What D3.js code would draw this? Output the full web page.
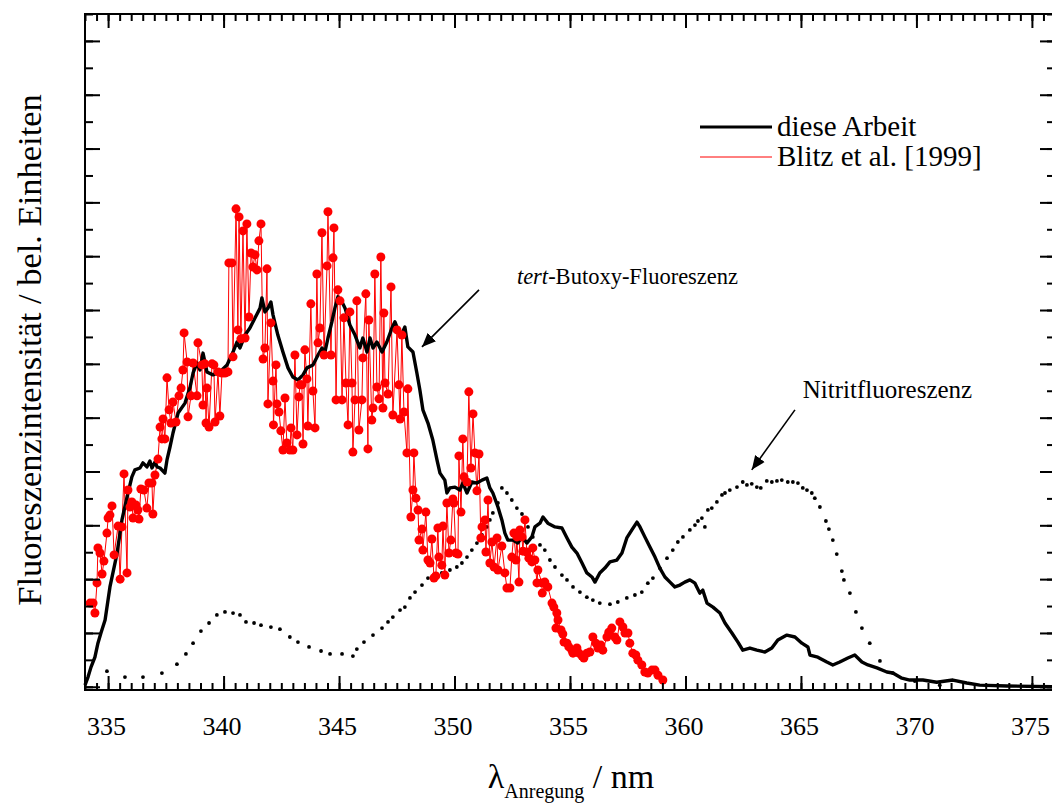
<!DOCTYPE html>
<html><head><meta charset="utf-8">
<script src="https://cdn.jsdelivr.net/npm/d3@7"></script>
<style>
html,body{margin:0;padding:0;background:#fff;}
svg{display:block;}
svg text{font-family:"Liberation Serif","Tinos","Times New Roman","Noto Serif","DejaVu Serif",serif;}
</style></head><body>
<svg id="chart" width="1052" height="805"></svg>
<script>
// ---- data (wavelength in nm, intensity in arbitrary units) ----
const blackX = [334.00,334.13,334.26,334.43,334.56,334.69,334.87,335.08,335.39,335.60,335.82,336.03,336.16,336.38,336.51,336.68,336.81,336.90,337.03,337.12,337.25,337.46,337.55,337.68,337.81,338.03,338.33,338.55,338.68,338.85,338.98,339.11,339.28,339.54,339.84,340.15,340.41,340.58,340.71,340.93,341.14,341.36,341.58,341.66,341.79,341.92,342.05,342.14,342.35,342.57,342.79,343.00,343.22,343.44,343.61,343.87,344.09,344.26,344.39,344.52,344.69,344.82,344.95,345.13,345.26,345.47,345.69,345.90,346.03,346.21,346.34,346.47,346.64,346.86,347.07,347.29,347.42,347.64,347.73,347.85,347.98,348.20,348.37,348.50,348.63,348.85,349.06,349.24,349.37,349.58,349.67,349.80,350.02,350.23,350.36,350.54,350.75,350.97,351.19,351.40,351.53,351.66,351.88,352.05,352.18,352.31,352.53,352.74,352.92,353.13,353.35,353.48,353.70,353.83,354.04,354.35,354.65,354.87,355.08,355.30,355.52,355.73,355.95,356.08,356.29,356.51,356.73,357.03,357.25,357.46,357.68,357.90,358.03,358.24,358.46,358.68,358.89,359.11,359.33,359.54,359.76,359.97,360.19,360.41,360.62,360.75,360.93,361.19,361.49,361.71,362.01,362.27,362.48,362.79,363.09,363.44,363.74,364.00,364.39,364.74,365.04,365.30,365.39,365.73,366.12,366.38,366.68,367.03,367.33,367.64,367.90,368.29,368.72,368.98,369.37,369.71,370.28,370.88,371.58,372.18,372.74,373.91,376.00];
const blackY = [0.06,0.36,0.73,1.10,1.62,2.00,2.48,3.71,4.97,6.20,7.05,7.80,8.06,8.13,8.32,8.17,8.39,8.13,8.35,8.17,8.13,7.94,8.43,8.91,9.43,10.17,10.54,11.14,11.66,12.03,11.77,12.40,11.70,11.59,11.70,11.96,12.44,12.81,12.59,13.07,13.33,13.70,14.07,14.45,13.93,14.07,14.30,13.82,13.07,12.44,11.85,11.51,11.40,11.59,11.85,11.96,12.33,12.59,12.44,12.96,13.56,14.07,14.49,14.30,14.07,13.44,13.07,12.59,12.96,12.44,12.96,12.59,12.81,12.44,12.81,13.33,13.56,13.07,13.14,13.37,12.63,12.44,11.66,11.03,10.29,9.80,9.17,8.43,7.94,7.68,7.20,7.39,7.42,7.31,7.57,7.20,7.61,7.57,7.68,7.76,7.39,7.20,6.68,6.20,5.71,5.45,5.45,5.34,5.57,5.34,5.57,5.94,6.08,6.31,6.08,5.94,5.90,5.53,5.19,4.97,4.60,4.23,4.08,3.89,4.23,4.41,4.64,4.71,4.97,5.53,5.83,6.12,5.94,5.57,5.19,4.82,4.41,4.08,3.89,3.71,3.78,3.89,3.97,3.85,3.48,3.59,3.11,2.96,2.74,2.37,2.00,1.66,1.36,1.44,1.36,1.29,1.44,1.74,1.92,1.85,1.62,1.48,1.18,1.10,0.92,0.81,0.92,1.07,1.18,0.92,0.81,0.70,0.55,0.51,0.32,0.25,0.25,0.17,0.25,0.14,0.06,0.03,0.00];

const dotX = [334.95,335.73,336.51,337.33,337.98,338.37,338.68,339.02,339.37,339.71,340.06,340.41,340.71,340.97,341.32,341.62,342.05,342.44,342.87,343.22,343.70,344.22,344.61,345.13,345.60,345.77,346.08,346.47,346.86,347.12,347.33,347.64,347.85,348.07,348.29,348.59,348.85,349.15,349.45,349.80,350.10,350.32,350.54,350.75,350.97,351.19,351.40,351.53,351.66,351.88,352.05,352.27,352.48,352.70,352.92,353.18,353.39,353.70,353.91,354.13,354.35,354.65,354.87,355.13,355.43,355.73,355.99,356.29,356.73,357.07,357.46,357.81,358.11,358.37,358.59,358.89,359.20,359.45,359.67,359.89,360.19,360.41,360.54,360.71,360.84,360.97,361.14,361.36,361.58,361.71,361.92,362.23,362.48,362.66,362.87,363.09,363.26,363.52,363.74,363.96,364.17,364.43,364.65,364.87,365.08,365.26,365.47,365.60,365.82,366.08,366.21,366.38,366.55,366.77,366.86,367.12,367.38,367.64,367.98,368.42,368.98,369.93,371.01];
const dotY = [0.58,0.36,0.36,0.51,0.84,1.22,1.62,2.07,2.37,2.67,2.78,2.74,2.67,2.41,2.37,2.29,2.22,2.14,1.85,1.66,1.48,1.33,1.22,1.22,1.14,1.40,1.66,1.92,2.18,2.41,2.59,2.85,2.96,3.30,3.52,3.78,4.04,4.04,4.23,4.34,4.45,4.60,4.82,5.08,5.34,5.64,5.94,6.20,6.46,6.83,7.39,7.20,6.94,6.64,6.42,5.94,5.57,5.27,5.08,4.71,4.45,4.15,3.97,3.71,3.52,3.33,3.22,3.11,3.07,3.15,3.30,3.41,3.52,3.85,4.04,4.41,4.78,5.08,5.38,5.57,5.83,6.01,6.16,6.27,5.94,6.57,6.64,6.87,7.13,7.20,7.31,7.42,7.61,7.50,7.54,7.42,7.39,7.65,7.61,7.65,7.68,7.61,7.61,7.57,7.39,7.31,7.20,7.01,6.68,6.16,5.86,5.45,4.93,4.30,3.97,3.48,2.78,2.18,1.62,0.96,0.51,0.21,0.06];

const redX = [334.22,334.35,334.43,334.52,334.56,334.65,334.74,334.82,334.95,335.00,335.08,335.17,335.26,335.43,335.52,335.60,335.69,335.82,335.86,335.95,336.03,336.08,336.21,336.29,336.34,336.42,336.55,336.68,336.77,336.90,336.94,337.03,337.16,337.25,337.33,337.38,337.46,337.55,337.64,337.72,337.81,337.94,338.07,338.16,338.24,338.29,338.42,338.46,338.59,338.68,338.85,338.89,339.06,339.11,339.19,339.24,339.28,339.37,339.50,339.58,339.63,339.76,339.84,339.93,340.06,340.19,340.23,340.36,340.41,340.54,340.62,340.67,340.75,340.84,340.93,341.01,341.10,341.19,341.27,341.36,341.45,341.53,341.62,341.71,341.79,341.88,341.92,342.05,342.14,342.16,342.27,342.31,342.40,342.48,342.57,342.66,342.74,342.87,342.92,343.00,343.09,343.18,343.26,343.31,343.39,343.44,343.52,343.61,343.65,343.78,343.87,343.96,344.04,344.09,344.17,344.26,344.35,344.48,344.52,344.65,344.74,344.78,344.87,344.95,345.04,345.13,345.21,345.30,345.39,345.47,345.56,345.60,345.69,345.77,345.86,345.99,346.03,346.16,346.25,346.29,346.42,346.47,346.55,346.64,346.73,346.81,346.90,346.94,346.99,347.12,347.25,347.33,347.51,347.59,347.64,347.72,347.81,347.94,347.98,348.11,348.20,348.24,348.33,348.42,348.46,348.59,348.63,348.76,348.85,348.94,349.02,349.11,349.19,349.28,349.32,349.45,349.50,349.58,349.67,349.76,349.84,349.93,349.97,350.06,350.15,350.19,350.28,350.36,350.41,350.54,350.62,350.71,350.80,350.88,350.97,351.06,351.14,351.19,351.32,351.36,351.45,351.53,351.62,351.71,351.84,351.88,352.05,352.18,352.27,352.40,352.48,352.57,352.66,352.70,352.79,352.83,352.92,352.96,353.05,353.13,353.22,353.35,353.39,353.48,353.57,353.61,353.78,353.80,353.91,354.04,354.22,354.30,354.39,354.43,354.48,354.61,354.69,354.74,354.87,354.95,355.08,355.13,355.30,355.39,355.52,355.60,355.73,355.86,355.99,356.12,356.21,356.34,356.42,356.60,356.68,356.81,356.94,357.03,357.16,357.29,357.38,357.51,357.59,357.72,357.85,357.94,358.11,358.24,358.37,358.55,358.68,358.81,359.02];
const redY = [3.11,3.11,2.74,3.86,5.16,4.97,4.19,4.67,5.71,6.27,6.38,6.72,4.90,5.97,4.00,5.94,7.91,4.23,7.31,6.68,6.87,6.27,6.75,6.57,6.23,7.35,7.31,6.64,7.57,7.57,6.42,7.87,8.46,9.65,9.21,9.95,9.21,11.48,10.29,9.80,10.58,9.84,10.81,11.10,11.77,13.15,12.07,10.03,10.81,12.03,10.81,12.78,11.96,10.47,12.00,9.80,11.10,9.65,12.00,11.96,9.84,11.70,10.06,11.66,11.66,11.70,15.75,15.75,12.26,17.76,13.26,17.46,12.93,16.94,12.96,17.20,13.74,16.12,15.60,16.05,15.49,16.57,17.20,12.18,12.59,15.53,10.51,13.52,11.36,9.73,11.96,10.51,10.21,9.51,8.80,10.73,9.06,8.80,9.62,8.80,12.33,9.36,10.77,11.22,11.22,9.02,12.52,11.44,9.69,14.23,10.99,9.62,15.34,12.78,13.33,16.87,12.33,15.64,17.65,12.33,15.94,17.05,10.66,14.75,14.34,10.66,13.71,11.29,9.73,13.93,11.29,8.72,10.66,14.34,9.54,10.66,12.22,14.60,8.84,13.63,9.91,10.36,15.34,11.14,10.70,15.97,10.36,13.89,11.29,10.88,14.86,10.10,13.26,11.22,9.95,13.07,10.21,8.69,11.07,6.31,7.31,8.69,7.01,6.57,5.45,5.86,5.08,6.49,4.71,4.60,5.49,4.04,4.12,5.90,4.82,4.52,5.97,4.15,6.83,4.97,5.45,6.98,6.83,4.97,4.93,8.58,6.49,9.21,7.80,7.61,10.96,8.13,10.14,8.69,7.28,8.65,5.53,5.94,6.20,5.01,6.94,4.60,5.38,4.45,5.53,4.34,5.23,4.23,3.67,3.67,4.82,5.71,4.71,5.57,3.89,5.83,5.57,5.04,6.20,5.01,4.78,4.64,5.16,4.71,3.86,4.34,3.86,3.48,3.89,3.71,3.11,2.96,2.18,2.74,2.48,2.11,1.96,1.66,1.62,1.48,1.36,1.25,1.44,1.25,1.14,1.07,1.25,1.29,1.85,1.62,1.44,1.55,1.36,1.85,2.03,2.18,1.85,1.74,2.41,2.22,2.00,2.00,1.62,1.25,1.18,0.99,0.81,0.55,0.51,0.62,0.62,0.43,0.25];

const xMajorTicks = [335,340,345,350,355,360,365,370,375];
const xMinorTicks = d3.range(334, 376.01, 0.5);
const yMajorTicks = d3.range(0, 25.01, 2);
const yMinorTicks = d3.range(0, 25.01, 1);
const legendLabels = ["diese Arbeit", "Blitz et al. [1999]"];

const FONT = '"Liberation Serif","Tinos","Times New Roman","Noto Serif","DejaVu Serif",serif';

// ---- layout ----
const svg = d3.select("#chart");
const L = 85, R = 1055, T = 14, B = 690;
const x = d3.scaleLinear().domain([334, 376]).range([L, R]);
const y = d3.scaleLinear().domain([-0.12, 25]).range([B, T]);

const black = blackX.map((d,i)=>[d, blackY[i]]);
const dots = dotX.map((d,i)=>[d, dotY[i]]);
const red = redX.map((d,i)=>[d, redY[i]]);
const line = d3.line().x(d=>x(d[0])).y(d=>y(d[1]));

// dotted nitrite curve
svg.append("g").selectAll("circle").data(dots).join("circle")
  .attr("cx", d=>x(d[0])).attr("cy", d=>y(d[1])).attr("r", 1.9).attr("fill", "#000");

// red connecting line
svg.append("path").datum(red).attr("d", line)
  .attr("fill","none").attr("stroke","#ff0000").attr("stroke-width",1);

// black line
svg.append("path").datum(black).attr("d", line)
  .attr("fill","none").attr("stroke","#000").attr("stroke-width",3.4)
  .attr("stroke-linejoin","round");

// red dots
svg.append("g").selectAll("circle").data(red).join("circle")
  .attr("cx", d=>x(d[0])).attr("cy", d=>y(d[1])).attr("r", 4.5).attr("fill", "#ff0000");

// ---- axes ----
function styleAxis(g){
  g.select(".domain").remove();
  g.attr("font-family", FONT);
  g.selectAll(".tick line").attr("stroke","#000").attr("stroke-width",2);
}
svg.append("g").attr("transform",`translate(0,${B})`)
  .call(d3.axisBottom(x).tickValues(xMinorTicks).tickSizeInner(-7).tickSizeOuter(0).tickFormat(""))
  .call(styleAxis);
const xb = svg.append("g").attr("transform",`translate(0,${B})`)
  .call(d3.axisBottom(x).tickValues(xMajorTicks).tickSizeInner(-14).tickSizeOuter(0).tickPadding(27).tickFormat(d3.format("d")))
  .call(styleAxis);
xb.selectAll(".tick text").attr("font-size",26).attr("font-family",FONT).attr("fill","#000").attr("dx",-2);

svg.append("g").attr("transform",`translate(0,${T})`)
  .call(d3.axisTop(x).tickValues(xMinorTicks).tickSizeInner(-7).tickSizeOuter(0).tickFormat(""))
  .call(styleAxis);
svg.append("g").attr("transform",`translate(0,${T})`)
  .call(d3.axisTop(x).tickValues(xMajorTicks).tickSizeInner(-14).tickSizeOuter(0).tickFormat(""))
  .call(styleAxis);

svg.append("g").attr("transform",`translate(${L},0)`)
  .call(d3.axisLeft(y).tickValues(yMinorTicks).tickSizeInner(-8).tickSizeOuter(0).tickFormat(""))
  .call(styleAxis);
svg.append("g").attr("transform",`translate(${L},0)`)
  .call(d3.axisLeft(y).tickValues(yMajorTicks).tickSizeInner(-15).tickSizeOuter(0).tickFormat(""))
  .call(styleAxis);
svg.append("g").attr("transform",`translate(${R},0)`)
  .call(d3.axisRight(y).tickValues(yMinorTicks).tickSizeInner(-8).tickSizeOuter(0).tickFormat(""))
  .call(styleAxis);
svg.append("g").attr("transform",`translate(${R},0)`)
  .call(d3.axisRight(y).tickValues(yMajorTicks).tickSizeInner(-15).tickSizeOuter(0).tickFormat(""))
  .call(styleAxis);

// frame
svg.append("rect").attr("x",L).attr("y",T).attr("width",R-L).attr("height",B-T)
  .attr("fill","none").attr("stroke","#000").attr("stroke-width",2);

// ---- axis titles ----
svg.append("text").attr("transform",`translate(41,${(T+B)/2-2}) rotate(-90)`)
  .attr("text-anchor","middle").attr("font-size",34.5).attr("font-family",FONT).attr("fill","#000")
  .text("Fluoreszenzintensität / bel. Einheiten");

const xt = svg.append("text").attr("x",571).attr("y",788).attr("text-anchor","middle")
  .attr("font-size",34).attr("font-family",FONT).attr("fill","#000");
xt.append("tspan").text("λ");
xt.append("tspan").attr("font-size",20).attr("dy",10).text("Anregung");
xt.append("tspan").attr("dy",-10).text(" / nm");

// ---- legend ----
const lg = svg.append("g");
[["#000",3],["#ff0000",1]].forEach((s,i)=>{
  const yy = 127 + i*30;
  lg.append("line").attr("x1",700).attr("x2",772).attr("y1",yy).attr("y2",yy)
    .attr("stroke",s[0]).attr("stroke-width",s[1]);
  lg.append("text").attr("x",777).attr("y",yy+9).attr("font-size",29).attr("font-family",FONT).attr("fill","#000")
    .text(legendLabels[i]);
});

// ---- annotations ----
const defs = svg.append("defs");
defs.append("marker").attr("id","ah").attr("viewBox","0 0 10 10").attr("refX",10).attr("refY",5)
  .attr("markerWidth",14).attr("markerHeight",14).attr("markerUnits","userSpaceOnUse")
  .attr("orient","auto").append("path").attr("d","M0,0.8 L10,5 L0,9.2 Z").attr("fill","#000");

svg.append("line").attr("x1",x(351.06)).attr("y1",y(14.75)).attr("x2",x(348.59)).attr("y2",y(12.63))
  .attr("stroke","#000").attr("stroke-width",1.6).attr("marker-end","url(#ah)");
const t1 = svg.append("text").attr("x",x(352.70)).attr("y",y(14.96)).attr("font-size",22.5).attr("font-family",FONT).attr("fill","#000");
t1.append("tspan").attr("font-style","italic").text("tert");
t1.append("tspan").text("-Butoxy-Fluoreszenz");

svg.append("line").attr("x1",x(364.74)).attr("y1",y(10.29)).attr("x2",x(362.87)).attr("y2",y(8.06))
  .attr("stroke","#000").attr("stroke-width",1.6).attr("marker-end","url(#ah)");
svg.append("text").attr("x",x(365.08)).attr("y",y(10.73)).attr("font-size",25).attr("font-family",FONT).attr("fill","#000")
  .text("Nitritfluoreszenz");
</script>
</body></html>
